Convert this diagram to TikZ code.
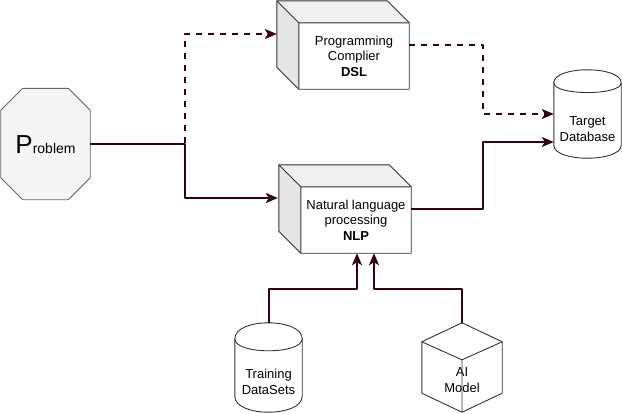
\documentclass[tikz,border=0pt]{standalone}
\usepackage{fontspec}
\setmainfont{Liberation Sans}
\usetikzlibrary{arrows.meta,calc}
\definecolor{wire}{HTML}{33001A}
\definecolor{edge}{HTML}{333333}
\newcommand\cubefaces[1]{%
	\fill[gray!12] ($(#1.north west)+(-22,-22)$)--($(#1.north east)+(-22,-22)$)--(#1.north east)--(#1.north west)--cycle;
	\fill[gray!20] ($(#1.north west)+(-22,-22)$)--(#1.north west)--(#1.south west)--($(#1.south west)+(-22,-22)$)--cycle;
	\draw[outline] ($(#1.north west)+(-22,-22)$)--($(#1.north east)+(-22,-22)$)--(#1.north east)--(#1.south east)--(#1.south west)--($(#1.south west)+(-22,-22)$)--cycle;
	\draw[outline] ($(#1.north west)+(-22,-22)$)--(#1.north west)--(#1.north east) (#1.north west)--(#1.south west);}
\newcommand\dbdraw[2]{%
	\draw[outline,fill=white] ($(#1.north west)+(0,#2)$) .. controls ($(#1.north west)+(0,-#2/3)$) and ($(#1.north east)+(0,-#2/3)$) .. ($(#1.north east)+(0,#2)$)--($(#1.south east)+(0,-#2)$) .. controls ($(#1.south east)+(0,#2/3)$) and ($(#1.south west)+(0,#2/3)$) .. ($(#1.south west)+(0,-#2)$)--cycle;
	\draw[outline] ($(#1.north west)+(0,#2)$) .. controls ($(#1.north west)+(0,2*#2)$) and ($(#1.north east)+(0,2*#2)$) .. ($(#1.north east)+(0,#2)$);}
\begin{document}
\begin{tikzpicture}[x=1pt,y=-1pt,line join=round,font=\fontsize{13}{15.5}\selectfont,
		face/.style={minimum width=110pt,minimum height=66pt,inner sep=0pt,align=center},
		shapebox/.style={inner sep=0pt,align=center},
		outline/.style={draw=edge,line width=0.9pt},
		wire/.style={draw=wire,line width=2pt,-{Stealth[length=12pt,width=10pt,inset=3pt]}},
		dashwire/.style={wire,dash pattern=on 6pt off 6pt}]
	\useasboundingbox (0,0) rectangle (622,413);
	\node[shapebox,minimum width=89pt,minimum height=111pt] (problem) at (45.5,144) {};
	\draw[draw=black!60,line width=0.9pt,fill=black!4] ($(problem.north west)+(22,0)$)--($(problem.north east)+(-22,0)$)--($(problem.north east)+(0,22)$)--($(problem.south east)+(0,-22)$)--($(problem.south east)+(-22,0)$)--($(problem.south west)+(22,0)$)--($(problem.south west)+(0,-22)$)--($(problem.north west)+(0,22)$)--cycle;
	\node[shapebox] (problemtext) at (45.5,145) {{\fontsize{26}{26}\selectfont P}{\fontsize{14}{14}\selectfont roblem}};
	\node[face] (dsl) at (354,56) {};
	\cubefaces{dsl}
	\node[face] (dsltext) at (dsl.center) {Programming\\Complier\\\textbf{DSL}};
	\node[face] (nlp) at (356,220) {};
	\cubefaces{nlp}
	\node[face] (nlptext) at (nlp.center) {Natural language\\processing\\\textbf{NLP}};
	\node[shapebox,minimum width=67pt,minimum height=88pt] (target) at (587.5,114) {};
	\dbdraw{target}{13}
	\node[shapebox] (targettext) at (587.5,129) {Target\\Database};
	\node[shapebox,minimum width=67pt,minimum height=89pt] (train) at (268.5,367.5) {};
	\dbdraw{train}{16}
	\node[shapebox] (traintext) at (268.5,382) {Training\\DataSets};
	\node[shapebox,minimum width=80pt,minimum height=89pt] (aimodel) at (462,367.5) {};
	\node[shapebox] (aitext) at (462,380) {AI\\Model};
	\draw[outline] (aimodel.north)--($(aimodel.north east)+(0,19)$)--($(aimodel.south east)+(0,-19)$)--(aimodel.south)--($(aimodel.south west)+(0,-19)$)--($(aimodel.north west)+(0,19)$)--cycle;
	\draw[outline] ($(aimodel.north west)+(0,19)$)--($(aimodel.north)+(0,37)$)--($(aimodel.north east)+(0,19)$) ($(aimodel.north)+(0,37)$)--(aimodel.south);
	\draw[dashwire] (problem.east)--++(94.5,0) |- ($(dsl.west)+(-22,-22)$);
	\draw[wire] (problem.east)--++(94.5,0) |- ($(nlp.west)+(-23,-22)$);
	\draw[dashwire] ($(dsl.east)+(0,-11)$)--++(74,0) |- (target.west);
	\draw[wire] ($(nlp.east)+(0,-11)$)--++(72,0) |- ($(target.west)+(0,28)$);
	\draw[wire] (train.north)--++(0,-34) -| ($(nlp.south)+(1,0)$);
	\draw[wire] (aimodel.north)--++(0,-34) -| ($(nlp.south)+(18,0)$);
\end{tikzpicture}
\end{document}
